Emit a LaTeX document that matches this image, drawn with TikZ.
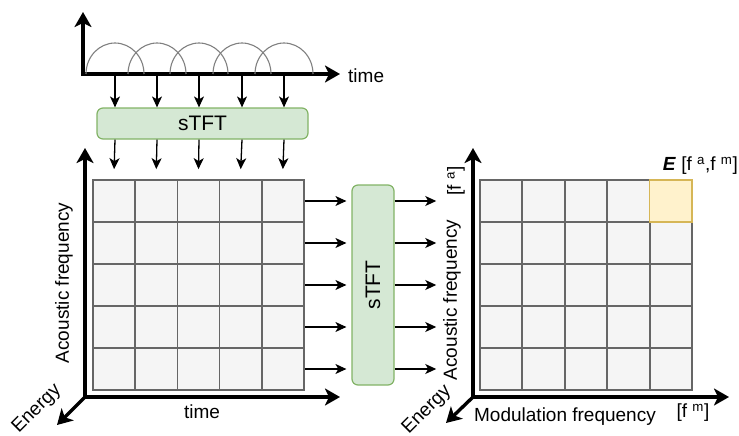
\documentclass[tikz,border=0pt]{standalone}
\usepackage{fontspec}
\setmainfont{Liberation Sans}
\usetikzlibrary{arrows.meta}
\definecolor{boxfill}{HTML}{D5E8D4}
\definecolor{boxline}{HTML}{82B366}
\definecolor{cellfill}{HTML}{F5F5F5}
\definecolor{cellline}{HTML}{666666}
\definecolor{hifill}{HTML}{FFF2CC}
\definecolor{hiline}{HTML}{D6B656}
\definecolor{wavecol}{HTML}{808080}
\begin{document}
\begin{tikzpicture}[x=1pt,y=-1pt,
  axis/.style={line width=3.4pt, -{Stealth[length=15pt,width=17pt,inset=4pt]}},
  flow/.style={line width=1.3pt, -{Stealth[length=11pt,width=10pt,inset=3pt]}},
  lbl/.style={font=\fontsize{19}{22}\selectfont, inner sep=0pt},
  stftbox/.style={draw=boxline, fill=boxfill, line width=1.2pt, rounded corners=6pt,
    font=\fontsize{21}{24}\selectfont, inner sep=0pt},
  cell/.style={draw=cellline, fill=cellfill, line width=1.7pt,
    minimum width=42.2pt, minimum height=42pt, inner sep=0pt},
  hicell/.style={cell, draw=hiline, fill=hifill},
  wave/.style={draw=wavecol, line width=1.1pt}
]
\useasboundingbox (0,0) rectangle (739,436);

% ---- input signal with overlapping analysis windows ----
\coordinate (o1) at (83,74);
\draw[axis] (o1) -- (83,12);
\draw[axis] (81.3,74) -- (340,74);
\node[lbl, anchor=west] (tlab) at (348,76) {time};
\foreach \c [count=\i] in {115,157,199,242,284} {
  \coordinate (t\i) at (\c,74);
  \draw[wave] (\c-29,74) arc[start angle=180, end angle=360, x radius=29, y radius=31];
}

% ---- first sTFT ----
\node[stftbox, minimum width=211pt, minimum height=31pt] (s1) at (202.5,123.5) {sTFT};
\foreach \i in {1,...,5} \draw[flow] (t\i) -- (s1.north -| t\i);

% ---- spectrogram grid ----
\foreach \i in {1,...,5}
  \foreach \j in {1,...,5}
    \node[cell] (L-\i-\j) at ({93+21.1+42.2*(\j-1)}, {180+21+42*(\i-1)}) {};
\foreach \i in {1,...,5} \draw[flow] (s1.south -| t\i) -- ([yshift=10pt]L-1-\i.north);

% left axes
\coordinate (o2) at (85,397);
\draw[axis] (85,398.7) -- (85,148);
\draw[axis] (83.3,397) -- (340,397);
\draw[axis] (o2) -- (57,425);
\node[lbl, rotate=90] (afl) at (64,283) {Acoustic frequency};
\node[lbl] (tl2) at (202,412) {time};
\node[lbl, rotate=45] (enl) at (37,409) {Energy};

% ---- second sTFT ----
\node[stftbox, rotate=90, minimum width=200pt, minimum height=42pt] (s2) at (373,285) {sTFT};
\foreach \i in {1,...,5} {
  \draw[flow, shorten >=5pt] (L-\i-5.east) -- (L-\i-5.east -| s2.north);
}

% ---- modulation spectrogram grid ----
\foreach \i in {1,...,5}
  \foreach \j in {1,...,5}
    \node[cell] (R-\i-\j) at ({480+21.2+42.4*(\j-1)}, {180+21+42*(\i-1)}) {};
\node[hicell, minimum width=42.4pt] (R-1-5) at ({480+21.2+42.4*4}, 201) {};
\foreach \i in {1,...,5} \draw[flow, shorten >=43pt] (R-\i-1.west -| s2.south) -- (R-\i-1.west);

% right axes
\coordinate (o3) at (473,397);
\draw[axis] (473,398.7) -- (473,148);
\draw[axis] (471.3,397) -- (729,397);
\draw[axis] (o3) -- (446,423);
\node[lbl, rotate=90] (afr) at (452,300) {Acoustic frequency};
\node[lbl, rotate=90] (fal) at (456,181) {[f \textsuperscript{a}]};
\node[lbl] (mfl) at (565,417) {Modulation frequency};
\node[lbl] (fml) at (693,413) {[f \textsuperscript{m}]};
\node[lbl, rotate=45] (enr) at (427,410) {Energy};
\node[lbl, anchor=east] (elab) at (738,166) {\textbf{\textit{E}} [f \textsuperscript{a},f \textsuperscript{m}]};
\end{tikzpicture}
\end{document}
